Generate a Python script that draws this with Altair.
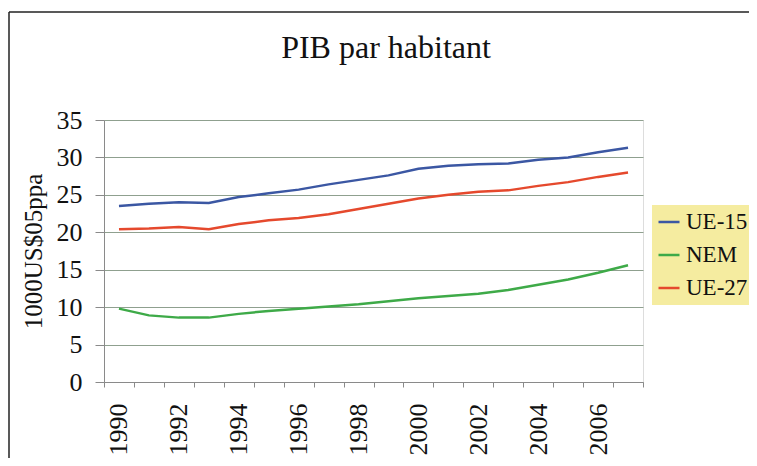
import altair as alt
import pandas as pd

years = list(range(1990, 2008))
ue15 = [23.5, 23.8, 24.0, 23.9, 24.7, 25.2, 25.7, 26.4, 27.0, 27.6, 28.5, 28.9, 29.1, 29.2, 29.7, 30.0, 30.7, 31.3]
nem = [9.8, 8.9, 8.6, 8.6, 9.1, 9.5, 9.8, 10.1, 10.4, 10.8, 11.2, 11.5, 11.8, 12.3, 13.0, 13.7, 14.6, 15.6]
ue27 = [20.4, 20.5, 20.7, 20.4, 21.1, 21.6, 21.9, 22.4, 23.1, 23.8, 24.5, 25.0, 25.4, 25.6, 26.2, 26.7, 27.4, 28.0]
series = ["UE-15", "NEM", "UE-27"]
colors = ["#3b57a3", "#3eaa48", "#e5492d"]
y_ticks = [0, 5, 10, 15, 20, 25, 30, 35]
title_text = "PIB par habitant"

rows = []
for name, vals in zip(series, [ue15, nem, ue27]):
    for yr, v in zip(years, vals):
        rows.append({"year": yr, "value": v, "series": name})
df = pd.DataFrame(rows)

SERIF = "'Liberation Serif', 'Times New Roman', 'DejaVu Serif', serif"
W, H = 539, 262

one = alt.Data(values=[{"t": title_text}])

frame_left = alt.Chart(one).mark_rule(stroke="#222222", strokeWidth=1.5).encode(
    x=alt.value(-95), y=alt.value(-108), y2=alt.value(342)
)
frame_top = alt.Chart(one).mark_rule(stroke="#222222", strokeWidth=1.5).encode(
    x=alt.value(-95), x2=alt.value(660), y=alt.value(-108)
)

title = alt.Chart(one).mark_text(
    font=SERIF, fontSize=32, color="#111111", align="center", baseline="alphabetic"
).encode(
    text="t:N", x=alt.value(282), y=alt.value(-62)
)

lines = alt.Chart(df).mark_line(strokeWidth=2.5).encode(
    x=alt.X(
        "year:O",
        scale=alt.Scale(type="band", paddingInner=0, paddingOuter=0),
        axis=alt.Axis(
            title=None,
            labelAngle=-90,
            tickBand="extent",
            labelExpr="datum.value % 2 == 0 ? datum.label : ''",
            labelOverlap=False,
            tickSize=5,
            tickColor="#8a8a8a",
            domainColor="#8a8a8a",
            labelPadding=16,
            labelFont=SERIF,
            labelFontSize=26,
            labelColor="#111111",
            grid=False,
        ),
    ),
    y=alt.Y(
        "value:Q",
        scale=alt.Scale(domain=[0, 35], nice=False),
        axis=alt.Axis(
            values=y_ticks,
            title="1000US$05ppa",
            titleFont=SERIF,
            titleFontSize=25,
            titleFontWeight="normal",
            titleColor="#111111",
            titleX=-71,
            titleY=H / 2,
            titleBaseline="middle",
            labelFont=SERIF,
            labelFontSize=26,
            labelColor="#111111",
            labelPadding=13,
            tickSize=9,
            tickColor="#8a8a8a",
            domainColor="#8a8a8a",
            grid=True,
            gridColor="#8fa08f",
            gridWidth=1,
        ),
    ),
    color=alt.Color(
        "series:N",
        sort=series,
        scale=alt.Scale(domain=series, range=colors),
        legend=alt.Legend(
            title=None,
            orient="none",
            legendX=548,
            legendY=85,
            fillColor="#f5eca0",
            padding=5,
            symbolType="stroke",
            symbolSize=441,
            symbolStrokeWidth=2.5,
            labelFont=SERIF,
            labelFontSize=23,
            labelColor="#111111",
            labelOffset=5,
            rowPadding=9,
            labelLimit=0,
        ),
    ),
)

chart = alt.layer(frame_left, frame_top, title, lines).properties(
    width=W,
    height=H,
    autosize=alt.AutoSizeParams(type="none"),
    padding={"left": 96, "top": 112, "right": 106, "bottom": 76},
).configure_view(
    fill="#c8e4c6", stroke="#9aa39a", strokeWidth=1
).configure(background="white")

chart.save("out.html", embed_options={"renderer": "svg", "actions": False})
